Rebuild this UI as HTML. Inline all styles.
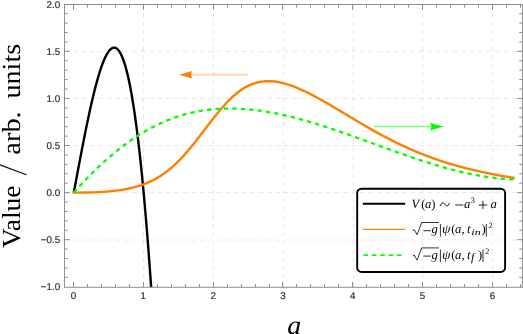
<!DOCTYPE html>
<html><head><meta charset="utf-8"><title>plot</title>
<style>
html,body{margin:0;padding:0;background:#fff;}
body{width:523px;height:334px;overflow:hidden;}
svg{display:block;will-change:transform;text-rendering:geometricPrecision;}
.t{font-family:"Liberation Sans",sans-serif;font-size:9.8px;fill:#303030;stroke:#303030;stroke-width:0.2px;}
.s{font-family:"Liberation Serif",serif;}
</style></head><body>
<svg width="523" height="334" viewBox="0 0 523 334">
<rect width="523" height="334" fill="#fff"/>
<defs><clipPath id="c"><rect x="64.5" y="4.5" width="457.9" height="282.8"/></clipPath></defs>
<g stroke="#e8e8e8" stroke-width="1" stroke-dasharray="4.4 4.03" fill="none">
<path d="M143.5 287.1V4.5"/>
<path d="M213.5 287.1V4.5"/>
<path d="M283.5 287.1V4.5"/>
<path d="M353.3 287.1V4.5"/>
<path d="M422.6 287.1V4.5"/>
<path d="M492.5 287.1V4.5"/>
<path d="M65.0 51.4H522.4"/>
<path d="M65.0 98.5H522.4"/>
<path d="M65.0 145.5H522.4"/>
<path d="M65.0 192.5H522.4"/>
<path d="M65.0 240.0H522.4"/>
</g>
<g clip-path="url(#c)" fill="none">
<path d="M73.80 192.60 L74.22 190.33 L74.64 188.06 L75.06 185.79 L75.48 183.52 L75.91 181.26 L76.33 178.99 L76.75 176.73 L77.17 174.47 L77.59 172.22 L78.01 169.97 L78.43 167.73 L78.85 165.49 L79.27 163.26 L79.70 161.03 L80.12 158.81 L80.54 156.60 L80.96 154.40 L81.38 152.20 L81.80 150.02 L82.22 147.84 L82.64 145.67 L83.06 143.52 L83.48 141.37 L83.91 139.24 L84.33 137.12 L84.75 135.01 L85.17 132.91 L85.59 130.83 L86.01 128.76 L86.43 126.70 L86.85 124.66 L87.27 122.64 L87.70 120.63 L88.12 118.63 L88.54 116.66 L88.96 114.70 L89.38 112.76 L89.80 110.83 L90.22 108.93 L90.64 107.05 L91.06 105.18 L91.49 103.34 L91.91 101.51 L92.33 99.71 L92.75 97.93 L93.17 96.17 L93.59 94.44 L94.01 92.73 L94.43 91.04 L94.85 89.37 L95.28 87.74 L95.70 86.12 L96.12 84.53 L96.54 82.97 L96.96 81.44 L97.38 79.93 L97.80 78.45 L98.22 77.00 L98.64 75.57 L99.07 74.18 L99.49 72.82 L99.91 71.48 L100.33 70.18 L100.75 68.91 L101.17 67.67 L101.59 66.46 L102.01 65.28 L102.43 64.14 L102.85 63.03 L103.28 61.96 L103.70 60.92 L104.12 59.91 L104.54 58.94 L104.96 58.01 L105.38 57.12 L105.80 56.26 L106.22 55.44 L106.64 54.65 L107.07 53.91 L107.49 53.20 L107.91 52.54 L108.33 51.91 L108.75 51.33 L109.17 50.78 L109.59 50.28 L110.01 49.82 L110.43 49.40 L110.86 49.03 L111.28 48.70 L111.70 48.41 L112.12 48.17 L112.54 47.97 L112.96 47.82 L113.38 47.72 L113.80 47.66 L114.22 47.65 L114.65 47.68 L115.07 47.77 L115.49 47.90 L115.91 48.08 L116.33 48.31 L116.75 48.60 L117.17 48.93 L117.59 49.31 L118.01 49.74 L118.44 50.23 L118.86 50.77 L119.28 51.36 L119.70 52.01 L120.12 52.71 L120.54 53.46 L120.96 54.27 L121.38 55.13 L121.80 56.05 L122.22 57.03 L122.65 58.07 L123.07 59.16 L123.49 60.31 L123.91 61.51 L124.33 62.78 L124.75 64.11 L125.17 65.49 L125.59 66.94 L126.01 68.45 L126.44 70.02 L126.86 71.65 L127.28 73.34 L127.70 75.10 L128.12 76.92 L128.54 78.80 L128.96 80.75 L129.38 82.76 L129.80 84.84 L130.23 86.98 L130.65 89.19 L131.07 91.47 L131.49 93.82 L131.91 96.23 L132.33 98.71 L132.75 101.26 L133.17 103.88 L133.59 106.57 L134.02 109.33 L134.44 112.16 L134.86 115.06 L135.28 118.03 L135.70 121.08 L136.12 124.20 L136.54 127.39 L136.96 130.66 L137.38 134.00 L137.80 137.41 L138.23 140.90 L138.65 144.47 L139.07 148.11 L139.49 151.83 L139.91 155.63 L140.33 159.50 L140.75 163.46 L141.17 167.49 L141.59 171.60 L142.02 175.79 L142.44 180.06 L142.86 184.41 L143.28 188.84 L143.70 193.36 L144.12 197.95 L144.54 202.63 L144.96 207.40 L145.38 212.24 L145.81 217.17 L146.23 222.19 L146.65 227.29 L147.07 232.48 L147.49 237.75 L147.91 243.11 L148.33 248.56 L148.75 254.09 L149.17 259.71 L149.60 265.42 L150.02 271.22 L150.44 277.11 L150.86 283.09 L151.28 289.16 L151.70 295.33 L152.12 301.58 L152.54 307.93 L152.96 314.36 L153.39 320.90 L153.81 327.52 L154.23 334.24 L154.65 341.06 L155.07 347.96 L155.49 354.97 L155.91 362.07 L156.33 369.27 L156.75 376.56 L157.17 383.95 L157.60 391.44" stroke="#000" stroke-width="2.4" stroke-linejoin="round"/>
<path d="M73.80 192.60 L76.01 192.60 L78.22 192.60 L80.43 192.59 L82.64 192.57 L84.85 192.55 L87.06 192.51 L89.27 192.47 L91.49 192.41 L93.70 192.34 L95.91 192.26 L98.12 192.16 L100.33 192.04 L102.54 191.91 L104.75 191.76 L106.96 191.58 L109.17 191.39 L111.38 191.18 L113.59 190.94 L115.80 190.68 L118.01 190.39 L120.22 190.07 L122.44 189.72 L124.65 189.34 L126.86 188.92 L129.07 188.47 L131.28 187.97 L133.49 187.43 L135.70 186.84 L137.91 186.21 L140.12 185.52 L142.33 184.77 L144.54 183.96 L146.75 183.09 L148.96 182.14 L151.17 181.12 L153.39 180.03 L155.60 178.85 L157.81 177.59 L160.02 176.24 L162.23 174.79 L164.44 173.25 L166.65 171.62 L168.86 169.88 L171.07 168.04 L173.28 166.10 L175.49 164.05 L177.70 161.91 L179.91 159.67 L182.12 157.33 L184.33 154.90 L186.55 152.39 L188.76 149.80 L190.97 147.14 L193.18 144.42 L195.39 141.64 L197.60 138.82 L199.81 135.96 L202.02 133.08 L204.23 130.19 L206.44 127.30 L208.65 124.41 L210.86 121.55 L213.07 118.72 L215.28 115.93 L217.50 113.20 L219.71 110.53 L221.92 107.94 L224.13 105.44 L226.34 103.04 L228.55 100.74 L230.76 98.55 L232.97 96.48 L235.18 94.54 L237.39 92.73 L239.60 91.05 L241.81 89.50 L244.02 88.09 L246.23 86.82 L248.45 85.69 L250.66 84.69 L252.87 83.83 L255.08 83.09 L257.29 82.48 L259.50 81.99 L261.71 81.61 L263.92 81.35 L266.13 81.19 L268.34 81.14 L270.55 81.19 L272.76 81.33 L274.97 81.56 L277.18 81.88 L279.39 82.28 L281.61 82.75 L283.82 83.30 L286.03 83.91 L288.24 84.59 L290.45 85.33 L292.66 86.12 L294.87 86.97 L297.08 87.86 L299.29 88.80 L301.50 89.78 L303.71 90.79 L305.92 91.85 L308.13 92.93 L310.34 94.05 L312.56 95.19 L314.77 96.36 L316.98 97.56 L319.19 98.77 L321.40 100.00 L323.61 101.25 L325.82 102.51 L328.03 103.79 L330.24 105.08 L332.45 106.38 L334.66 107.69 L336.87 109.01 L339.08 110.33 L341.29 111.65 L343.51 112.98 L345.72 114.31 L347.93 115.64 L350.14 116.96 L352.35 118.29 L354.56 119.61 L356.77 120.92 L358.98 122.23 L361.19 123.53 L363.40 124.83 L365.61 126.11 L367.82 127.39 L370.03 128.65 L372.24 129.90 L374.45 131.14 L376.67 132.37 L378.88 133.58 L381.09 134.79 L383.30 135.97 L385.51 137.14 L387.72 138.30 L389.93 139.44 L392.14 140.56 L394.35 141.67 L396.56 142.76 L398.77 143.83 L400.98 144.89 L403.19 145.92 L405.40 146.94 L407.62 147.95 L409.83 148.93 L412.04 149.90 L414.25 150.85 L416.46 151.78 L418.67 152.69 L420.88 153.59 L423.09 154.47 L425.30 155.33 L427.51 156.17 L429.72 156.99 L431.93 157.80 L434.14 158.59 L436.35 159.37 L438.57 160.12 L440.78 160.86 L442.99 161.59 L445.20 162.29 L447.41 162.99 L449.62 163.66 L451.83 164.32 L454.04 164.97 L456.25 165.60 L458.46 166.21 L460.67 166.82 L462.88 167.40 L465.09 167.98 L467.30 168.54 L469.52 169.08 L471.73 169.62 L473.94 170.14 L476.15 170.65 L478.36 171.15 L480.57 171.64 L482.78 172.12 L484.99 172.58 L487.20 173.04 L489.41 173.49 L491.62 173.93 L493.83 174.36 L496.04 174.78 L498.25 175.20 L500.46 175.60 L502.68 176.00 L504.89 176.40 L507.10 176.79 L509.31 177.17 L511.52 177.54 L513.73 177.92" stroke="#ff8000" stroke-width="2.4" stroke-linejoin="round" stroke-linecap="square"/>
<path d="M73.80 192.60 L76.01 190.13 L78.22 187.70 L80.43 185.29 L82.64 182.93 L84.85 180.59 L87.06 178.29 L89.27 176.03 L91.49 173.80 L93.70 171.60 L95.91 169.45 L98.12 167.33 L100.33 165.24 L102.54 163.20 L104.75 161.19 L106.96 159.21 L109.17 157.28 L111.38 155.38 L113.59 153.53 L115.80 151.71 L118.01 149.93 L120.22 148.18 L122.44 146.48 L124.65 144.82 L126.86 143.19 L129.07 141.61 L131.28 140.06 L133.49 138.55 L135.70 137.09 L137.91 135.66 L140.12 134.27 L142.33 132.92 L144.54 131.61 L146.75 130.34 L148.96 129.10 L151.17 127.91 L153.39 126.75 L155.60 125.64 L157.81 124.56 L160.02 123.52 L162.23 122.52 L164.44 121.55 L166.65 120.63 L168.86 119.74 L171.07 118.89 L173.28 118.07 L175.49 117.30 L177.70 116.55 L179.91 115.85 L182.12 115.18 L184.33 114.54 L186.55 113.94 L188.76 113.37 L190.97 112.84 L193.18 112.34 L195.39 111.87 L197.60 111.44 L199.81 111.04 L202.02 110.67 L204.23 110.33 L206.44 110.02 L208.65 109.74 L210.86 109.49 L213.07 109.27 L215.28 109.08 L217.50 108.92 L219.71 108.79 L221.92 108.68 L224.13 108.60 L226.34 108.55 L228.55 108.52 L230.76 108.52 L232.97 108.54 L235.18 108.59 L237.39 108.66 L239.60 108.76 L241.81 108.88 L244.02 109.03 L246.23 109.19 L248.45 109.38 L250.66 109.59 L252.87 109.83 L255.08 110.08 L257.29 110.35 L259.50 110.65 L261.71 110.96 L263.92 111.30 L266.13 111.65 L268.34 112.02 L270.55 112.41 L272.76 112.82 L274.97 113.24 L277.18 113.68 L279.39 114.14 L281.61 114.62 L283.82 115.11 L286.03 115.61 L288.24 116.13 L290.45 116.67 L292.66 117.22 L294.87 117.78 L297.08 118.36 L299.29 118.94 L301.50 119.55 L303.71 120.16 L305.92 120.79 L308.13 121.43 L310.34 122.07 L312.56 122.73 L314.77 123.40 L316.98 124.08 L319.19 124.77 L321.40 125.47 L323.61 126.18 L325.82 126.90 L328.03 127.62 L330.24 128.35 L332.45 129.09 L334.66 129.84 L336.87 130.59 L339.08 131.35 L341.29 132.11 L343.51 132.88 L345.72 133.66 L347.93 134.44 L350.14 135.22 L352.35 136.01 L354.56 136.80 L356.77 137.60 L358.98 138.39 L361.19 139.19 L363.40 140.00 L365.61 140.80 L367.82 141.60 L370.03 142.41 L372.24 143.22 L374.45 144.02 L376.67 144.83 L378.88 145.64 L381.09 146.44 L383.30 147.25 L385.51 148.05 L387.72 148.85 L389.93 149.65 L392.14 150.44 L394.35 151.24 L396.56 152.03 L398.77 152.81 L400.98 153.59 L403.19 154.37 L405.40 155.14 L407.62 155.91 L409.83 156.67 L412.04 157.42 L414.25 158.17 L416.46 158.91 L418.67 159.64 L420.88 160.37 L423.09 161.09 L425.30 161.80 L427.51 162.50 L429.72 163.20 L431.93 163.88 L434.14 164.56 L436.35 165.22 L438.57 165.87 L440.78 166.52 L442.99 167.15 L445.20 167.77 L447.41 168.38 L449.62 168.98 L451.83 169.56 L454.04 170.13 L456.25 170.69 L458.46 171.24 L460.67 171.77 L462.88 172.29 L465.09 172.79 L467.30 173.28 L469.52 173.75 L471.73 174.21 L473.94 174.65 L476.15 175.07 L478.36 175.48 L480.57 175.87 L482.78 176.24 L484.99 176.60 L487.20 176.93 L489.41 177.25 L491.62 177.55 L493.83 177.83 L496.04 178.09 L498.25 178.34 L500.46 178.56 L502.68 178.76 L504.89 178.94 L507.10 179.09 L509.31 179.23 L511.52 179.35 L513.73 179.44" stroke="#00ff00" stroke-width="2.3" stroke-dasharray="4.4 4.04" stroke-linejoin="round"/>
</g>
<path d="M248.3 74.7H190" stroke="#ff8000" stroke-opacity="0.36" stroke-width="1.8" fill="none"/>
<path d="M178.9 74.7L192.1 71L190.8 74.7L192.1 78.4Z" fill="#ff8000"/>
<path d="M374 126.6H432" stroke="#00ff00" stroke-opacity="0.5" stroke-width="1.5" fill="none"/>
<path d="M443.6 126.6L430.2 122.9L431.5 126.6L430.2 130.4Z" fill="#00ff00"/>
<g stroke="#8e8e8e" stroke-width="1" fill="none">
<rect x="64.5" y="4.5" width="457.9" height="282.8"/>
<path d="M73.5 287.3v-5.3M73.5 4.5v5.3M87.5 287.3v-3.2M87.5 4.5v3.2M101.5 287.3v-3.2M101.5 4.5v3.2M115.5 287.3v-3.2M115.5 4.5v3.2M129.5 287.3v-3.2M129.5 4.5v3.2M143.5 287.3v-5.3M143.5 4.5v5.3M157.5 287.3v-3.2M157.5 4.5v3.2M171.5 287.3v-3.2M171.5 4.5v3.2M185.5 287.3v-3.2M185.5 4.5v3.2M199.5 287.3v-3.2M199.5 4.5v3.2M213.5 287.3v-5.3M213.5 4.5v5.3M227.5 287.3v-3.2M227.5 4.5v3.2M241.5 287.3v-3.2M241.5 4.5v3.2M255.5 287.3v-3.2M255.5 4.5v3.2M269.5 287.3v-3.2M269.5 4.5v3.2M282.5 287.3v-5.3M282.5 4.5v5.3M296.5 287.3v-3.2M296.5 4.5v3.2M310.5 287.3v-3.2M310.5 4.5v3.2M324.5 287.3v-3.2M324.5 4.5v3.2M338.5 287.3v-3.2M338.5 4.5v3.2M352.5 287.3v-5.3M352.5 4.5v5.3M366.5 287.3v-3.2M366.5 4.5v3.2M380.5 287.3v-3.2M380.5 4.5v3.2M394.5 287.3v-3.2M394.5 4.5v3.2M408.5 287.3v-3.2M408.5 4.5v3.2M422.5 287.3v-5.3M422.5 4.5v5.3M436.5 287.3v-3.2M436.5 4.5v3.2M450.5 287.3v-3.2M450.5 4.5v3.2M464.5 287.3v-3.2M464.5 4.5v3.2M478.5 287.3v-3.2M478.5 4.5v3.2M492.5 287.3v-5.3M492.5 4.5v5.3M506.5 287.3v-3.2M506.5 4.5v3.2M520.5 287.3v-3.2M520.5 4.5v3.2M64.5 277.34h3.2M522.4 277.34h-3.2M64.5 267.92h3.2M522.4 267.92h-3.2M64.5 258.50h3.2M522.4 258.50h-3.2M64.5 249.09h3.2M522.4 249.09h-3.2M64.5 239.68h5.3M522.4 239.68h-5.3M64.5 230.26h3.2M522.4 230.26h-3.2M64.5 220.84h3.2M522.4 220.84h-3.2M64.5 211.43h3.2M522.4 211.43h-3.2M64.5 202.01h3.2M522.4 202.01h-3.2M64.5 192.60h5.3M522.4 192.60h-5.3M64.5 183.19h3.2M522.4 183.19h-3.2M64.5 173.77h3.2M522.4 173.77h-3.2M64.5 164.35h3.2M522.4 164.35h-3.2M64.5 154.94h3.2M522.4 154.94h-3.2M64.5 145.52h5.3M522.4 145.52h-5.3M64.5 136.11h3.2M522.4 136.11h-3.2M64.5 126.69h3.2M522.4 126.69h-3.2M64.5 117.28h3.2M522.4 117.28h-3.2M64.5 107.86h3.2M522.4 107.86h-3.2M64.5 98.45h5.3M522.4 98.45h-5.3M64.5 89.03h3.2M522.4 89.03h-3.2M64.5 79.62h3.2M522.4 79.62h-3.2M64.5 70.20h3.2M522.4 70.20h-3.2M64.5 60.79h3.2M522.4 60.79h-3.2M64.5 51.37h5.3M522.4 51.37h-5.3M64.5 41.96h3.2M522.4 41.96h-3.2M64.5 32.54h3.2M522.4 32.54h-3.2M64.5 23.13h3.2M522.4 23.13h-3.2M64.5 13.71h3.2M522.4 13.71h-3.2"/>
</g>
<g class="t" text-anchor="end">
<text x="60.1" y="7.6">2.0</text>
<text x="60.1" y="54.7">1.5</text>
<text x="60.1" y="101.7">1.0</text>
<text x="60.1" y="148.8">0.5</text>
<text x="60.1" y="195.9">0.0</text>
<text x="60.1" y="243.0">−0.5</text>
<text x="60.1" y="290.1">−1.0</text>
</g>
<g class="t" text-anchor="middle">
<text x="73.5" y="299.4">0</text>
<text x="143.3" y="299.4">1</text>
<text x="213.2" y="299.4">2</text>
<text x="283.0" y="299.4">3</text>
<text x="352.8" y="299.4">4</text>
<text x="422.6" y="299.4">5</text>
<text x="492.5" y="299.4">6</text>
</g>
<g class="s" font-size="26" fill="#000">
<text transform="translate(20.2 248.0) rotate(-90)" textLength="62.4" lengthAdjust="spacingAndGlyphs">Value</text>
<text transform="translate(20.2 154.7) rotate(-90)" textLength="43.4" lengthAdjust="spacingAndGlyphs">arb.</text>
<text transform="translate(20.2 98.5) rotate(-90)" textLength="54.7" lengthAdjust="spacingAndGlyphs">units</text>
</g>
<path d="M26.4 174.7L-1 164.5" stroke="#000" stroke-width="1.1" fill="none"/>
<text class="s" x="287.2" y="333.5" font-size="26.5" font-style="italic" fill="#000" textLength="14" lengthAdjust="spacingAndGlyphs">a</text>
<rect x="357.2" y="188.7" width="147.9" height="83.25" rx="4.4" ry="4.4" fill="none" stroke="#000" stroke-width="1.9"/>
<path d="M362.8 203.8H405.2" stroke="#000" stroke-width="2.1"/>
<path d="M362.8 229.4H405.2" stroke="#ff8000" stroke-width="1.4"/>
<path d="M363.5 255.1H402.1" stroke="#00ff00" stroke-width="1.7" stroke-dasharray="4.5 3.9"/>
<g class="s" font-size="12.7" fill="#000">
<text x="411.6" y="207.8" font-style="italic">V</text>
<text x="421.3" y="207.8">(</text>
<text x="424.9" y="207.8" font-style="italic">a</text>
<text x="431.2" y="207.8">)</text>
<path d="M440.2 205.9C441.3 202.4 443.3 202 444.8 204.3S448.2 206.6 449.4 202.9" stroke="#000" stroke-width="0.95" fill="none"/>
<path d="M455.2 205H463.3M478.7 205H487.2M482.95 200.9V209.2" stroke="#000" stroke-width="0.85" fill="none"/>
<text x="464.1" y="207.8" font-style="italic">a</text>
<text x="470.8" y="202.6" font-size="8.2">3</text>
<text x="490.5" y="207.8" font-style="italic">a</text>
<path d="M412.6 230.6l1.6 -1l2.9 5.2l4.6 -12.3H439" stroke="#000" stroke-width="0.8" fill="none"/>
<path d="M423.3 230.7H430.8" stroke="#000" stroke-width="0.85" fill="none"/>
<text x="431.4" y="233.2" font-style="italic">g</text>
<path d="M440.4 224.0v12.6M486.3 224.0v12.6" stroke="#000" stroke-width="0.8" fill="none"/>
<text x="442.0" y="233.2" font-style="italic" textLength="8.6" lengthAdjust="spacingAndGlyphs">ψ</text>
<text x="451.3" y="233.2">(</text>
<text x="454.9" y="233.2" font-style="italic">a</text>
<text x="461.6" y="233.2">,</text>
<text x="466.9" y="233.2" font-style="italic">t</text>
<text x="471.3" y="235.2" font-style="italic" font-size="8.6" textLength="9.4" lengthAdjust="spacingAndGlyphs">in</text>
<text x="481.4" y="233.2">)</text>
<text x="488.5" y="228.2" font-size="8.2">2</text>
<path d="M412.6 256.0l1.6 -1l2.9 5.2l4.6 -12.3H439" stroke="#000" stroke-width="0.8" fill="none"/>
<path d="M423.3 256.1H430.8" stroke="#000" stroke-width="0.85" fill="none"/>
<text x="431.4" y="258.6" font-style="italic">g</text>
<path d="M440.4 249.4v12.6M483.0 249.4v12.6" stroke="#000" stroke-width="0.8" fill="none"/>
<text x="442.0" y="258.6" font-style="italic" textLength="8.6" lengthAdjust="spacingAndGlyphs">ψ</text>
<text x="451.3" y="258.6">(</text>
<text x="454.9" y="258.6" font-style="italic">a</text>
<text x="461.6" y="258.6">,</text>
<text x="466.9" y="258.6" font-style="italic">t</text>
<text x="471.0" y="260.5" font-style="italic" font-size="11.5">f</text>
<text x="478.1" y="258.6">)</text>
<text x="485.2" y="253.6" font-size="8.2">2</text>
</g>
</svg>
</body></html>
